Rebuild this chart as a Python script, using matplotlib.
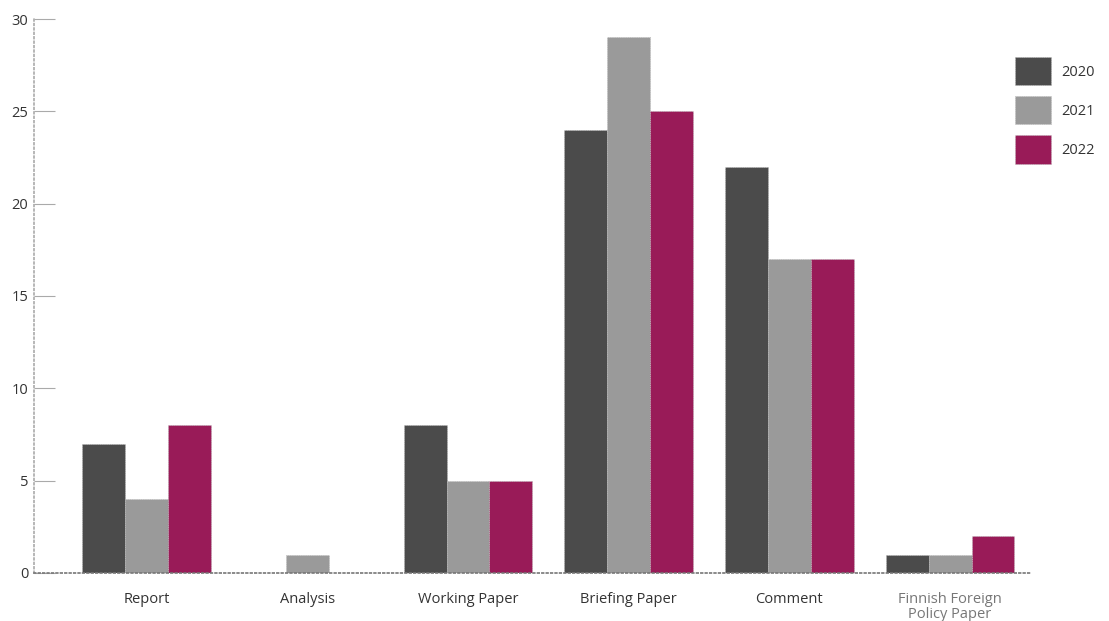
import matplotlib.pyplot as plt
import numpy as np

plt.rcParams['font.family'] = ['Open Sans', 'DejaVu Sans']

# Data
categories = ['Report', 'Analysis', 'Working Paper', 'Briefing Paper', 'Comment',
              'Finnish Foreign\nPolicy Paper']
years = ['2020', '2021', '2022']
v2020 = [7, 0, 8, 24, 22, 1]
v2021 = [4, 1, 5, 29, 17, 1]
v2022 = [8, 0, 5, 25, 17, 2]
colors = ['#4b4b4b', '#9a9a9a', '#991b58']

fig = plt.figure(figsize=(11.09, 6.21), dpi=100)
ax = fig.add_axes([0.0307, 0.0773, 0.8999, 0.8921])

x = np.arange(len(categories))
w = 0.267
for i, (vals, lab) in enumerate(zip([v2020, v2021, v2022], years)):
    ax.bar(x + (i - 1) * w, vals, width=w, color=colors[i], label=lab,
           edgecolor='#bbbbbb', linewidth=0.6, linestyle=':')

ax.set_xlim(-0.70, 5.51)
ax.set_ylim(0, 30)
ax.set_yticks([0, 5, 10, 15, 20, 25, 30])
ax.set_xticks(x)
ax.set_xticklabels(categories, linespacing=0.95)

for s in ['top', 'right']:
    ax.spines[s].set_visible(False)
ax.spines['left'].set_color('#aaaaaa')
ax.spines['left'].set_linestyle(':')
ax.spines['left'].set_linewidth(1.2)
ax.spines['bottom'].set_color('#777777')
ax.spines['bottom'].set_linestyle(':')
ax.spines['bottom'].set_linewidth(1.2)

ax.tick_params(axis='y', direction='in', length=15, color='#aaaaaa',
               labelsize=10.5, labelcolor='#333333', pad=4)
ax.tick_params(axis='x', length=0, labelsize=10.5, labelcolor='#333333', pad=14)
for t in ax.get_xticklabels()[-1:]:
    t.set_color('#777777')

ax.legend(loc='upper left', bbox_to_anchor=(1015 / 1109, 1 - 57 / 621),
          bbox_transform=fig.transFigure, frameon=False,
          borderpad=0, borderaxespad=0,
          handlelength=2.5, handleheight=2.6, labelspacing=0.75,
          handletextpad=0.7, fontsize=10.5, labelcolor='#333333')

fig.savefig('out.png', dpi=100)
